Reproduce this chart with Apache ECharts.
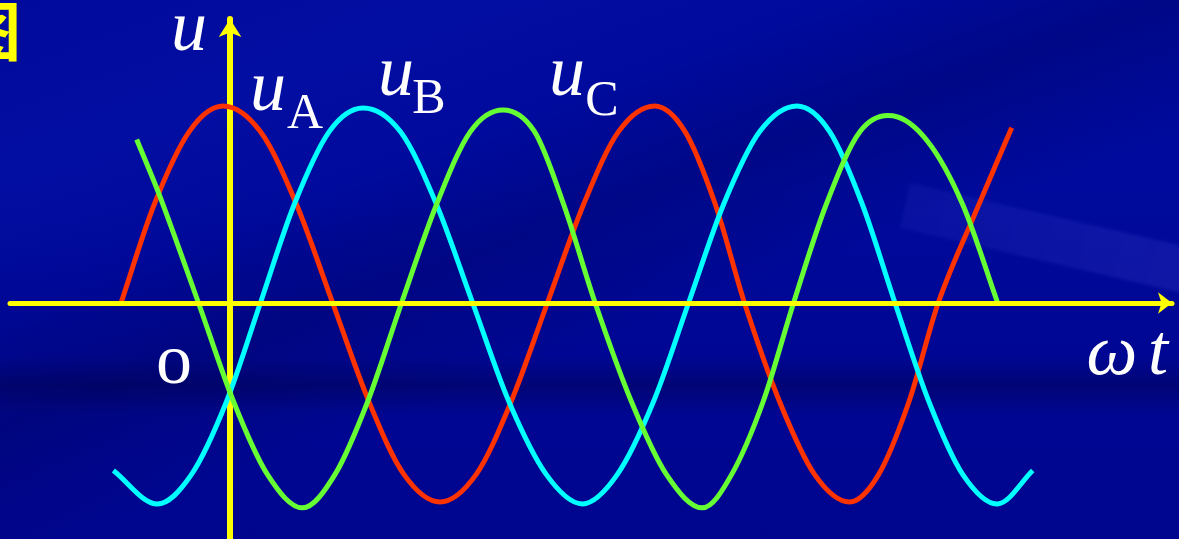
<!DOCTYPE html>
<html>
<head>
<meta charset="utf-8">
<title>三相电压波形</title>
<script src="https://cdn.jsdelivr.net/npm/echarts@6/dist/echarts.min.js"></script>
<style>
  html, body { margin: 0; padding: 0; width: 1179px; height: 539px; overflow: hidden; }
  body {
    position: relative;
    background:
      linear-gradient(to bottom, rgba(0,0,0,0) 66%, rgba(0,0,50,0.3) 71.5%, rgba(0,0,0,0) 77%),
      linear-gradient(160deg, rgba(0,0,0,0) 0%, rgba(20,40,200,0.14) 18%, rgba(0,0,0,0) 32%, rgba(0,0,60,0.22) 44%, rgba(0,0,0,0) 58%),
      linear-gradient(to bottom, #000a9c 0%, #000a9c 35%, #000794 60%, #00058e 100%);
  }
  #glare {
    position: absolute; left: 910px; top: 183px; width: 290px; height: 46px;
    background: linear-gradient(to right, rgba(90,90,230,0.09), rgba(90,90,230,0.18));
    transform: rotate(13deg); transform-origin: left top;
    filter: blur(1.5px);
  }
  #chart { position: absolute; left: 0; top: 0; width: 1179px; height: 539px; }
</style>
</head>
<body>
<div id="glare"></div>
<div id="chart"></div>
<script>
// Phase angle ωt in degrees, voltage in per-unit of the peak value.
const redX   = [-94, -65, -35, -6, 26, 57, 88, 119, 149, 180, 211, 241, 272, 303, 333, 364, 390, 416, 441, 471, 501, 531, 556, 582, 607, 639, 670];
const redY   = [-0.01, 0.5, 0.87, 1.0, 0.87, 0.5, 0, -0.5, -0.87, -1.01, -0.87, -0.5, 0, 0.5, 0.87, 1.0, 0.87, 0.5, 0, -0.5, -0.87, -1.01, -0.87, -0.5, 0, 0.46, 0.89];

const cyanX  = [-100, -63, -33, -3, 26, 55, 85, 114, 146, 177, 208, 239, 271, 302, 332, 363, 393, 423, 454, 486, 514, 542, 570, 599, 628, 658, 688];
const cyanY  = [-0.85, -1.02, -0.87, -0.5, 0, 0.5, 0.87, 0.99, 0.87, 0.5, 0, -0.5, -0.87, -1.02, -0.87, -0.5, 0, 0.5, 0.87, 1.0, 0.87, 0.5, 0, -0.5, -0.87, -1.02, -0.85];

const greenX = [-80, -60, -27, 3, 32, 62, 90, 118, 147, 177, 206, 234, 261, 286, 313, 344, 374, 405, 430, 457, 483, 511, 540, 568, 598, 628, 658];
const greenY = [0.83, 0.54, 0, -0.5, -0.87, -1.04, -0.87, -0.5, 0, 0.5, 0.87, 0.98, 0.87, 0.5, 0, -0.5, -0.87, -1.04, -0.87, -0.5, 0, 0.5, 0.87, 0.95, 0.82, 0.5, 0];

const seriesNames = ['uA', 'uB', 'uC'];

const zip = (xs, ys) => xs.map((x, i) => [x, ys[i]]);

const chart = echarts.init(document.getElementById('chart'), null, { renderer: 'canvas' });

const serif = '"Liberation Serif", "DejaVu Serif", serif';
const WHITE = '#ffffff';
const YELLOW = '#ffff00';

// Cubic Hermite path through the projected points (slopes from neighbours).
function hermitePath(p) {
  const n = p.length;
  const m = p.map(function (pt, i) {
    const a = p[Math.max(i - 1, 0)];
    const b = p[Math.min(i + 1, n - 1)];
    return (b[1] - a[1]) / (b[0] - a[0]);
  });
  let d = 'M' + p[0][0].toFixed(2) + ' ' + p[0][1].toFixed(2);
  for (let i = 0; i < n - 1; i++) {
    const dx = p[i + 1][0] - p[i][0];
    d += ' C' + (p[i][0] + dx / 3).toFixed(2) + ' ' + (p[i][1] + m[i] * dx / 3).toFixed(2) +
         ' ' + (p[i + 1][0] - dx / 3).toFixed(2) + ' ' + (p[i + 1][1] - m[i + 1] * dx / 3).toFixed(2) +
         ' ' + p[i + 1][0].toFixed(2) + ' ' + p[i + 1][1].toFixed(2);
  }
  return d;
}

// One smooth stroke per phase, positioned through the cartesian scales.
function curve(name, data, color) {
  return {
    name: name,
    type: 'custom',
    coordinateSystem: 'cartesian2d',
    data: data,
    clip: false,
    silent: true,
    z: 3,
    animation: false,
    renderItem: function (params, api) {
      if (params.dataIndex !== 0) return null;
      const pts = data.map(function (d) { return api.coord(d); });
      return {
        type: 'path',
        shape: { pathData: hermitePath(pts) },
        style: { stroke: color, lineWidth: 5, fill: 'none', lineJoin: 'round', lineCap: 'butt' }
      };
    }
  };
}

function label(text, x, y, font) {
  return {
    type: 'text', x: x, y: y, z: 20, silent: true,
    style: { text: text, fill: WHITE, font: font, align: 'center', verticalAlign: 'middle' }
  };
}

const italicBig = 'italic 72px ' + serif;
const subFont = '50px ' + serif;

const option = {
  backgroundColor: 'transparent',
  animation: false,
  grid: { left: 10, top: 19, width: 1162, bottom: 0, containLabel: false },
  xAxis: {
    type: 'value',
    min: -188.6,
    max: 807.4,
    z: 10,
    axisLine: {
      onZero: true,
      lineStyle: { color: YELLOW, width: 5 },
      symbol: ['none', 'arrow'],
      symbolSize: [16, 14]
    },
    axisTick: { show: false },
    axisLabel: { show: false },
    splitLine: { show: false }
  },
  yAxis: {
    type: 'value',
    min: -1.198,
    max: 1.4416,
    z: 1,
    axisLine: {
      onZero: true,
      lineStyle: { color: YELLOW, width: 6 },
      symbol: ['none', 'arrow'],
      symbolSize: [17, 18]
    },
    axisTick: { show: false },
    axisLabel: { show: false },
    splitLine: { show: false }
  },
  series: [
    curve(seriesNames[0], zip(redX, redY), '#ff3300'),
    curve(seriesNames[1], zip(cyanX, cyanY), '#00ffff'),
    curve(seriesNames[2], zip(greenX, greenY), '#66ff33')
  ],
  graphic: [
    // caption glyph cut off by the left edge
    { type: 'text', x: 21, y: 31, z: 20, silent: true,
      style: { text: '图', fill: YELLOW, font: 'bold 64px "Noto Sans CJK SC"', align: 'right', verticalAlign: 'middle' } },
    // axis names and origin
    label('u', 189, 31, italicBig),
    label('ω', 1112, 355, italicBig),
    label('t', 1158, 355, italicBig),
    label('o', 174, 364, '72px ' + serif),
    // phase labels
    label('u', 268, 91, italicBig),
    label('A', 305, 115, subFont),
    label('u', 396, 76, italicBig),
    label('B', 429, 100, subFont),
    label('u', 567, 76, italicBig),
    label('C', 602, 102, subFont)
  ]
};

chart.setOption(option);
</script>
</body>
</html>
